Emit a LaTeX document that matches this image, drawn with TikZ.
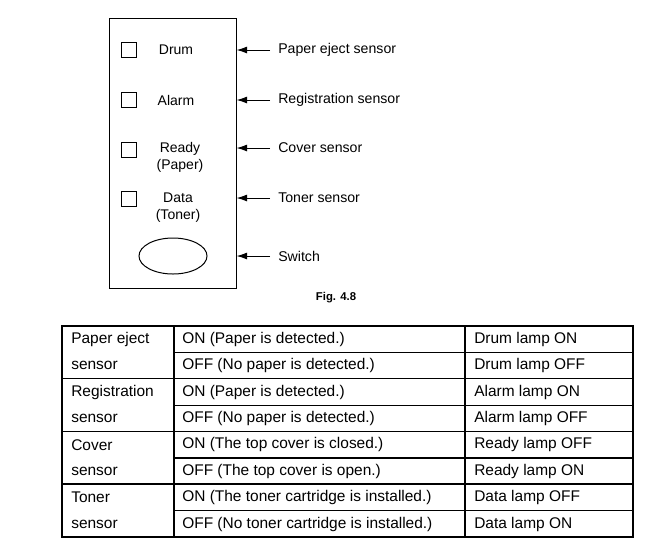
\documentclass[tikz,border=0pt]{standalone}
\usepackage{fontspec}
\setmainfont{Liberation Sans}
\usetikzlibrary{positioning}
\usetikzlibrary{arrows.meta,shapes.geometric}

\begin{document}
\begin{tikzpicture}[
		x=0.75pt,y=-0.75pt,
		panelbox/.style={draw=black, line width=0.75pt, minimum width=95.25pt, minimum height=202.5pt, inner sep=0pt},
		lamp/.style={draw=black, line width=0.75pt, minimum size=11.25pt, inner sep=0pt},
		lampname/.style={font=\fontsize{10.5}{12.75}\selectfont, align=center, inner sep=0pt},
		sensorname/.style={font=\fontsize{10.6}{12.75}\selectfont, anchor=west, inner sep=6pt},
		pointer/.style={draw=black, line width=0.75pt, -{Latex[length=8pt,width=5.25pt]}},
		cell/.style={font=\fontsize{11.6}{13}\selectfont, anchor=west, inner sep=0pt},
		thinrule/.style={line width=1pt},
		thickrule/.style={line width=1.5pt},
	]
	\useasboundingbox (0,0) rectangle (659,551);
	% Draw the operation panel
	\node (panel) [panelbox] at (172.5,153) {};
	\node (drumlamp) [lamp] at (128.5,50) {};
	\node (alarmlamp) [lamp] at (128.5,100) {};
	\node (readylamp) [lamp] at (128.5,150) {};
	\node (datalamp) [lamp] at (128.5,199) {};
	\node (drum) [lampname] at (176,50) {Drum};
	\node (alarm) [lampname] at (176,100) {Alarm};
	\node (ready) [lampname] at (180,157.5) {Ready\\(Paper)};
	\node (data) [lampname] at (178,207.5) {Data\\(Toner)};
	\node (switch) [draw=black, line width=0.75pt, ellipse, minimum width=51pt, minimum height=27pt, inner sep=0pt] at (173,256) {};
	% Draw the sensor labels and arrows
	\node (ejectsensor) [sensorname] at (270,50) {Paper eject sensor};
	\node (regsensor) [sensorname] at (270,100) {Registration sensor};
	\node (coversensor) [sensorname] at (270,148) {Cover sensor};
	\node (tonersensor) [sensorname] at (270,198) {Toner sensor};
	\node (switchlabel) [sensorname] at (270,256) {Switch};
	\draw[pointer] (ejectsensor.west) -- (ejectsensor.west -| panel.east);
	\draw[pointer] (regsensor.west) -- (regsensor.west -| panel.east);
	\draw[pointer] (coversensor.west) -- (coversensor.west -| panel.east);
	\draw[pointer] (tonersensor.west) -- (tonersensor.west -| panel.east);
	\draw[pointer] (switchlabel.west) -- (switchlabel.west -| panel.east);
	\node (caption) [font=\fontsize{8.5}{10}\selectfont\bfseries] at (336,298) {Fig. 4.8};
	% Draw the table grid
	\draw[thickrule] (61.5,326) rectangle (633,537.2);
	\draw[thickrule] (174,326) -- (174,537.2);
	\draw[thickrule] (465,326) -- (465,537.2);
	\draw[thinrule] (61.5,378.8) -- (633,378.8);
	\draw[thinrule] (61.5,431.6) -- (633,431.6);
	\draw[thickrule] (61.5,484.4) -- (633,484.4);
	\draw[thinrule] (174,352.4) -- (633,352.4);
	\draw[thinrule] (174,405.2) -- (633,405.2);
	\draw[thinrule] (174,458) -- (633,458);
	\draw[thinrule] (174,510.8) -- (633,510.8);
	% Table texts
	\node (eject) [cell] at (71,339.2) {Paper eject};
	\node (ejectb) [cell] at (71,365.6) {sensor};
	\node (reg) [cell] at (71,392) {Registration};
	\node (regb) [cell] at (71,418.4) {sensor};
	\node (cover) [cell] at (71,444.8) {Cover};
	\node (coverb) [cell] at (71,471.2) {sensor};
	\node (toner) [cell] at (71,497.6) {Toner};
	\node (tonerb) [cell] at (71,524) {sensor};
	\node (ejecton) [cell] at (182,339.2) {ON (Paper is detected.)};
	\node (ejectoff) [cell] at (182,365.6) {OFF (No paper is detected.)};
	\node (regon) [cell] at (182,392) {ON (Paper is detected.)};
	\node (regoff) [cell] at (182,418.4) {OFF (No paper is detected.)};
	\node (coveron) [cell] at (182,444.8) {ON (The top cover is closed.)};
	\node (coveroff) [cell] at (182,471.2) {OFF (The top cover is open.)};
	\node (toneron) [cell] at (182,497.6) {ON (The toner cartridge is installed.)};
	\node (toneroff) [cell] at (182,524) {OFF (No toner cartridge is installed.)};
	\node (drumon) [cell] at (474,339.2) {Drum lamp ON};
	\node (drumoff) [cell] at (474,365.6) {Drum lamp OFF};
	\node (alarmon) [cell] at (474,392) {Alarm lamp ON};
	\node (alarmoff) [cell] at (474,418.4) {Alarm lamp OFF};
	\node (readyoff) [cell] at (474,444.8) {Ready lamp OFF};
	\node (readyon) [cell] at (474,471.2) {Ready lamp ON};
	\node (dataoff) [cell] at (474,497.6) {Data lamp OFF};
	\node (dataon) [cell] at (474,524) {Data lamp ON};
\end{tikzpicture}
\end{document}
